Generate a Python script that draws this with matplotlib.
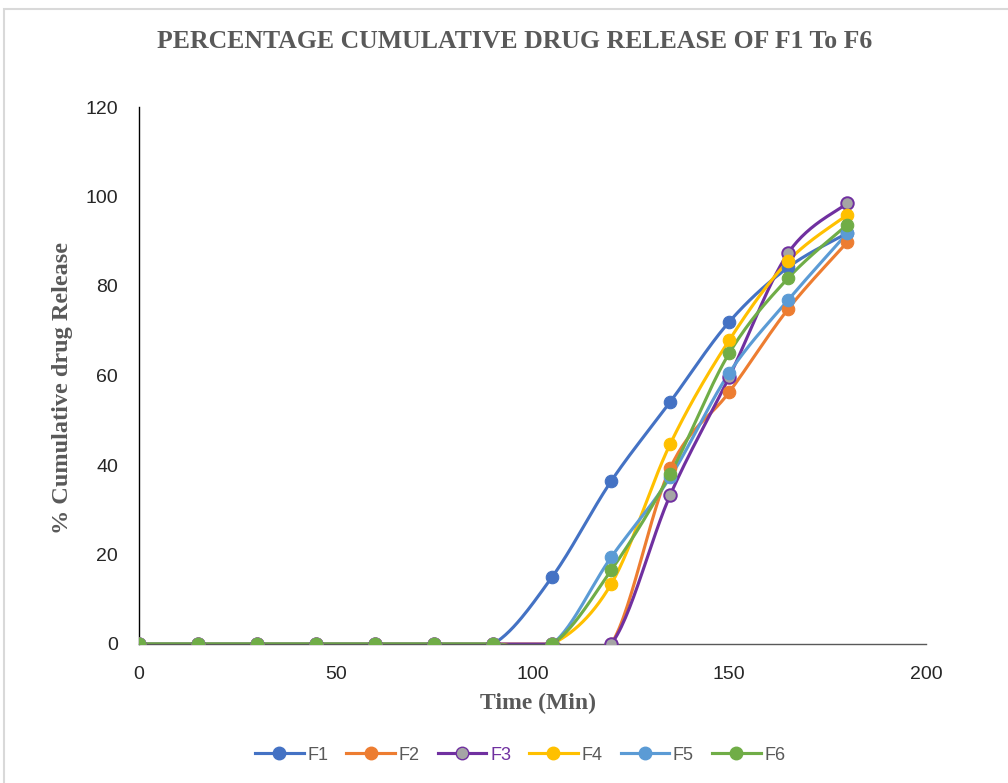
import numpy as np
import matplotlib
matplotlib.use("Agg")
import matplotlib.pyplot as plt
from matplotlib.lines import Line2D
from matplotlib.patches import Rectangle

TIME = [0, 15, 30, 45, 60, 75, 90, 105, 120, 135, 150, 165, 180]
F1 = [0, 0, 0, 0, 0, 0, 0, 15.0, 36.4, 54.1, 72.0, 84.2, 91.8]
F2 = [0, 0, 0, 0, 0, 0, 0, 0, 0, 39.3, 56.3, 74.9, 89.8]
F3 = [0, 0, 0, 0, 0, 0, 0, 0, 0, 33.3, 59.7, 87.4, 98.5]
F4 = [0, 0, 0, 0, 0, 0, 0, 0, 13.4, 44.7, 67.9, 85.6, 95.9]
F5 = [0, 0, 0, 0, 0, 0, 0, 0, 19.4, 37.3, 60.6, 76.9, 91.8]
F6 = [0, 0, 0, 0, 0, 0, 0, 0, 16.5, 38.0, 65.0, 81.8, 93.7]
NAMES = ["F1", "F2", "F3", "F4", "F5", "F6"]

COLORS = ["#4472C4", "#ED7D31", "#7030A0", "#FFC000", "#5B9BD5", "#70AD47"]
FACES = ["#4472C4", "#ED7D31", "#A5A5A5", "#FFC000", "#5B9BD5", "#70AD47"]


def smooth(xs, ys, n=30):
    # excel-ish smoothing: catmull-rom converted to bezier
    p = np.column_stack([xs, ys]).astype(float)
    p = np.vstack([p[0], p, p[-1]])
    out = []
    t = np.linspace(0, 1, n)[:, None]
    for i in range(1, len(p) - 2):
        p0, p1, p2, p3 = p[i - 1], p[i], p[i + 1], p[i + 2]
        c1 = p1 + (p2 - p0) / 6
        c2 = p2 - (p3 - p1) / 6
        seg = ((1 - t) ** 3) * p1 + 3 * ((1 - t) ** 2) * t * c1 \
            + 3 * (1 - t) * t ** 2 * c2 + t ** 3 * p2
        out.append(seg if i == 1 else seg[1:])
    out = np.vstack(out)
    return out[:, 0], out[:, 1]


fig = plt.figure(figsize=(10.08, 7.83), dpi=100)
fig.patches.append(Rectangle((4 / 1008, -0.01), 1.1, 1 - 9 / 783 + 0.01,
                             transform=fig.transFigure, fill=False,
                             ec="#d9d9d9", lw=1.5))
ax = fig.add_axes([139 / 1008, 1 - 644 / 783, 787 / 1008, 537 / 783])

for name, ys, c, fc in zip(NAMES, [F1, F2, F3, F4, F5, F6], COLORS, FACES):
    sx, sy = smooth(TIME, ys)
    ax.plot(sx, sy, color=c, lw=2.25, solid_capstyle="round", zorder=2)
    ax.plot(TIME, ys, ls="none", marker="o", ms=9, mfc=fc,
            mec=c, mew=1.4 if name == "F3" else 0.8, zorder=3)

ax.set_xlim(0, 200)
ax.set_ylim(0, 120)
ax.set_xticks([0, 50, 100, 150, 200])
ax.set_yticks(range(0, 121, 20))
ax.tick_params(length=0, labelsize=14, colors="#262626")
ax.tick_params(axis="y", pad=15)
ax.tick_params(axis="x", pad=16)
for lab in ax.get_xticklabels() + ax.get_yticklabels():
    lab.set_fontfamily("Liberation Sans")
ax.spines["top"].set_visible(False)
ax.spines["right"].set_visible(False)
ax.spines["left"].set_color("#000000")
ax.spines["bottom"].set_color("#595959")
ax.spines["left"].set_linewidth(1)
ax.spines["bottom"].set_linewidth(1)

serif = dict(family="Liberation Serif", fontweight="bold", color="#595959")
fig.text(0.511, 1 - 42 / 783, "PERCENTAGE CUMULATIVE DRUG RELEASE OF F1 To F6",
         ha="center", va="center", fontsize=18.5, **serif)
fig.text(0.5333, 1 - 703 / 783, "Time (Min)", ha="center", va="center",
         fontsize=17, **serif)
fig.text(63 / 1008, 1 - 388 / 783, "% Cumulative drug Release", ha="center",
         va="center", rotation=90, fontsize=17.5, **serif)

handles = []
for name, c, fc in zip(NAMES, COLORS, FACES):
    handles.append(Line2D([0], [0], color=c, lw=2.25, marker="o", ms=9,
                          mfc=fc, mec=c))
leg = fig.legend(handles, NAMES, loc="center", bbox_to_anchor=(0.516, 1 - 755 / 783),
                 ncol=6, frameon=False, fontsize=13, handlelength=2.7,
                 columnspacing=1.0, handletextpad=0.2)
for txt, c in zip(leg.get_texts(), COLORS):
    txt.set_color("#7030A0" if txt.get_text() == "F3" else "#595959")
    txt.set_fontfamily("Liberation Sans")

fig.savefig("out.png", dpi=100)
